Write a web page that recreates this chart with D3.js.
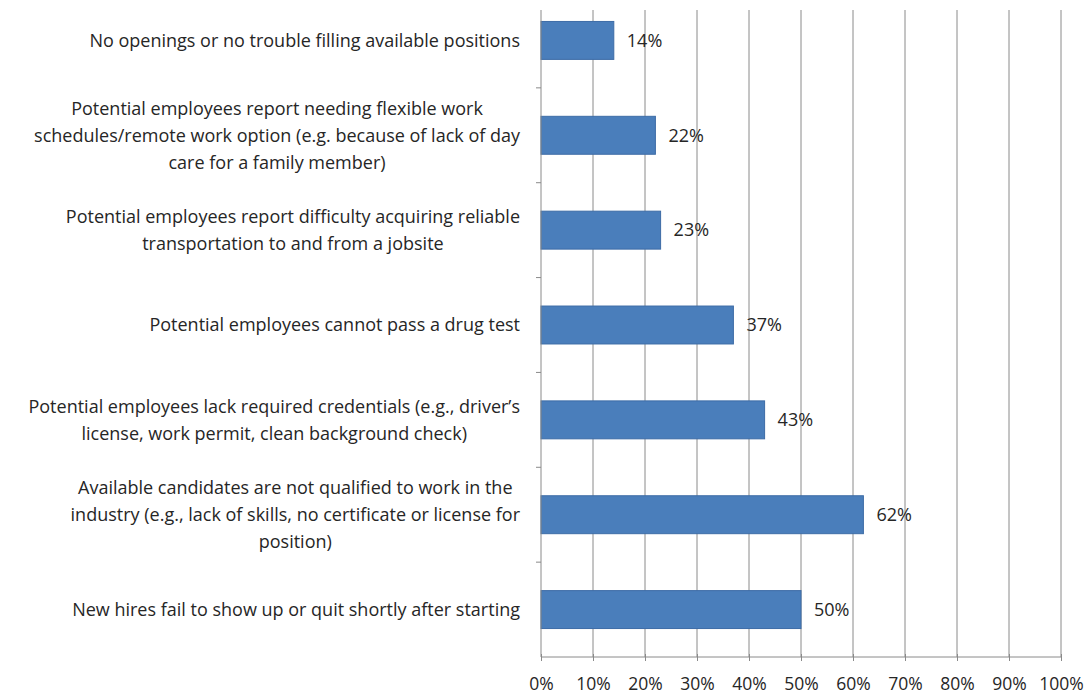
<!DOCTYPE html>
<html>
<head>
<meta charset="utf-8">
<script src="https://cdn.jsdelivr.net/npm/d3@7"></script>
<style>
  body { margin: 0; background: #fff; }
  text { font-family: "Open Sans", Lato, sans-serif; fill: #262626; }
</style>
</head>
<body>
<svg width="1089" height="697"></svg>
<script>
    // category labels, one entry per line of the wrapped text
    var categories = [
        ["No openings or no trouble filling available positions"],
        ["Potential employees report needing flexible work", "schedules/remote work option (e.g. because of lack of day", "care for a family member)"],
        ["Potential employees report difficulty acquiring reliable", "transportation to and from a jobsite"],
        ["Potential employees cannot pass a drug test"],
        ["Potential employees lack required credentials (e.g., driver\u2019s", "license, work permit, clean background check)"],
        ["Available candidates are not qualified to work in the", "industry (e.g., lack of skills, no certificate or license for", "position)"],
        ["New hires fail to show up or quit shortly after starting"]
    ];
    var values = [14, 22, 23, 37, 43, 62, 50];
    var ticks = [0, 10, 20, 30, 40, 50, 60, 70, 80, 90, 100];

    var svg = d3.select("svg"),
        plotLeft = 541, plotRight = 1061, plotTop = -7, plotBottom = 657,
        fontSize = "18px";

    var x = d3.scaleLinear().domain([0, 100]).range([plotLeft, plotRight]);
    var y = d3.scaleBand().domain(d3.range(categories.length)).range([plotTop, plotBottom]).paddingInner(0.6).paddingOuter(0.3);
    var band = d3.scaleBand().domain(d3.range(categories.length)).range([plotTop, plotBottom]);

    // vertical gridlines
    svg.append("g").selectAll("line")
        .data(ticks.slice(1))
        .enter().append("line")
        .attr("x1", function (d) { return x(d); }).attr("x2", function (d) { return x(d); })
        .attr("y1", 10).attr("y2", plotBottom)
        .attr("stroke", "#8a8a8a").attr("stroke-width", 1);

    // bars
    svg.append("g").selectAll("rect")
        .data(values)
        .enter().append("rect")
        .attr("x", x(0))
        .attr("y", function (d, i) { return y(i); })
        .attr("width", function (d) { return x(d) - x(0); })
        .attr("height", y.bandwidth())
        .attr("fill", "#4a7ebb")
        .attr("stroke", "#3d6ca6").attr("stroke-width", 1);

    // value labels
    svg.append("g").selectAll("text")
        .data(values)
        .enter().append("text")
        .attr("x", function (d) { return x(d) + 13; })
        .attr("y", function (d, i) { return y(i) + y.bandwidth() / 2; })
        .attr("dy", "0.35em")
        .style("font-size", fontSize)
        .text(function (d) { return d + "%"; });

    // x axis
    var xAxis = svg.append("g")
        .attr("transform", "translate(0," + plotBottom + ")")
        .call(d3.axisBottom(x).tickValues(ticks).tickSize(6).tickPadding(15).tickFormat(function (d) { return d + "%"; }));
    xAxis.select(".domain").attr("stroke", "#8a8a8a").attr("d", "M" + plotLeft + ",0H" + plotRight);
    xAxis.selectAll(".tick line").attr("stroke", "#8a8a8a").attr("y1", -3).attr("y2", 4);
    xAxis.selectAll("text").style("font-size", "17.5px").attr("fill", "#262626")
        .style("font-family", "'Open Sans', Lato, sans-serif");

    // y axis line and ticks between categories
    svg.append("line").attr("x1", plotLeft).attr("x2", plotLeft).attr("y1", 10).attr("y2", plotBottom).attr("stroke", "#8a8a8a");
    svg.append("g").selectAll("line")
        .data(d3.range(1, categories.length))
        .enter().append("line")
        .attr("x1", plotLeft - 5).attr("x2", plotLeft)
        .attr("y1", function (d) { return band(d); }).attr("y2", function (d) { return band(d); })
        .attr("stroke", "#8a8a8a");

    // category labels: lines centred within a block that is right-aligned at the axis
    var lineH = 27;
    var labelG = svg.append("g");
    categories.forEach(function (lines, i) {
        var cy = y(i) + y.bandwidth() / 2;
        var g = labelG.append("g");
        var texts = g.selectAll("text").data(lines).enter().append("text")
            .attr("text-anchor", "middle")
            .attr("y", function (d, j) { return cy + (j - (lines.length - 1) / 2) * lineH; })
            .attr("dy", "0.35em")
            .style("font-size", fontSize)
            .text(function (d) { return d; });
        var w = 0;
        texts.each(function () { w = Math.max(w, this.getComputedTextLength()); });
        texts.attr("x", 520 - w / 2);
    });
</script>
</body>
</html>
